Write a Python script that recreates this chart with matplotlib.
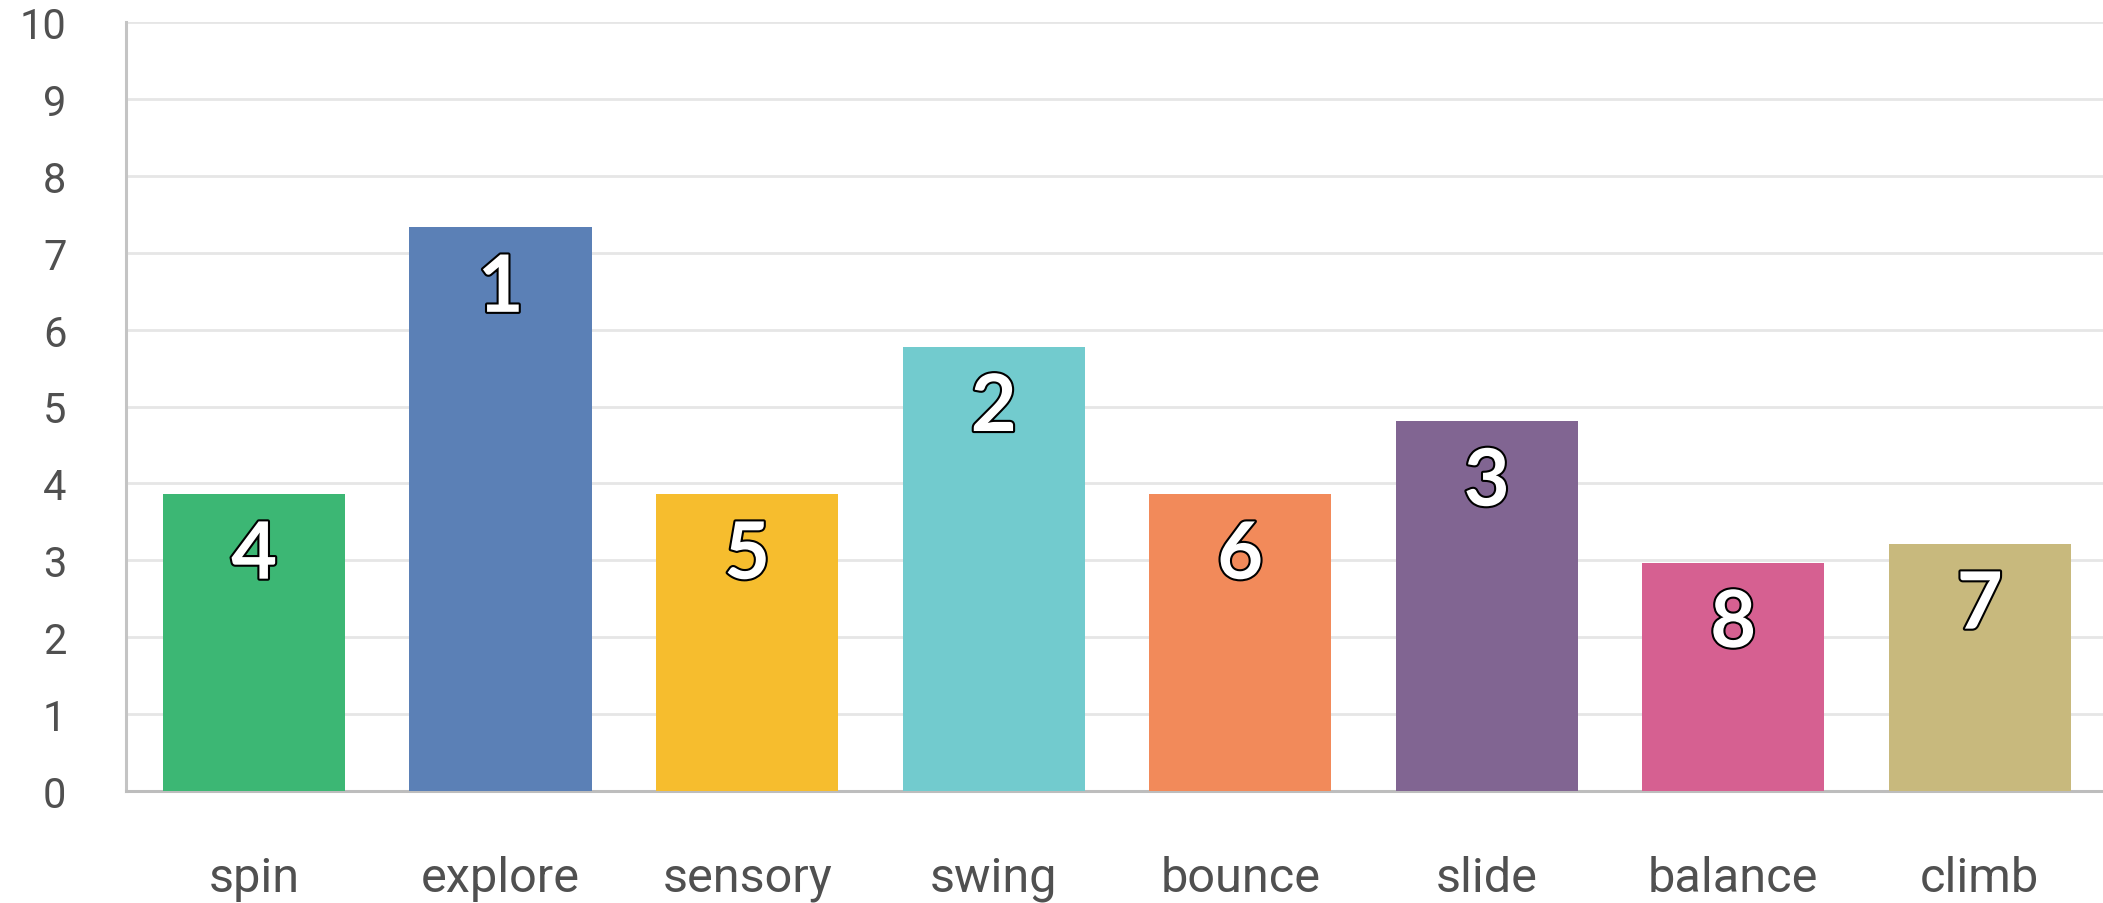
import matplotlib
matplotlib.use("Agg")
import matplotlib.pyplot as plt
import matplotlib.patheffects as pe

categories = ["spin", "explore", "sensory", "swing", "bounce", "slide", "balance", "climb"]
values = [3.86, 7.33, 3.86, 5.78, 3.86, 4.81, 2.97, 3.21]
ranks = ["4", "1", "5", "2", "6", "3", "8", "7"]
colors = ["#3cb774", "#5b80b6", "#f6bd2e", "#72cbce", "#f28a5a", "#816592", "#d66091", "#c8b97d"]
yticks = list(range(0, 11))

W, H = 2103, 904
fig = plt.figure(figsize=(W / 100, H / 100), dpi=100)
ax = fig.add_axes([126 / W, (H - 792) / H, 1 - 126 / W, (792 - 23) / H])

x = list(range(len(categories)))
ax.bar(x, values, width=0.74, color=colors, zorder=3)

ax.set_xlim(-0.52, 7.5)
ax.set_ylim(0, 10)
ax.set_yticks(yticks)
ax.set_yticklabels([str(t) for t in yticks])
ax.set_xticks(x)
ax.set_xticklabels(categories)

ax.grid(axis="y", color="#e6e6e6", linewidth=2.0, zorder=0)
ax.grid(axis="x", visible=False)
for s in ["top", "right"]:
    ax.spines[s].set_visible(False)
ax.spines["left"].set_color("#c4c4c4")
ax.spines["left"].set_linewidth(2.2)
ax.spines["bottom"].set_color("#bdbdbd")
ax.spines["bottom"].set_linewidth(2.2)

ax.tick_params(axis="y", length=0, pad=43, labelsize=30, labelcolor="#505050")
ax.tick_params(axis="x", length=0, pad=46, labelsize=35, labelcolor="#505050")
for lbl in ax.get_yticklabels() + ax.get_xticklabels():
    lbl.set_fontfamily("Roboto")

for xi, v, r in zip(x, values, ranks):
    ax.annotate(r, xy=(xi, v), xytext=(0, -45), textcoords="offset points",
                ha="center", va="center", fontsize=57, fontweight="bold",
                family="Lato", color="white", zorder=5,
                path_effects=[pe.withStroke(linewidth=3, foreground="black")])

fig.savefig("out.png", dpi=100, facecolor="white")
